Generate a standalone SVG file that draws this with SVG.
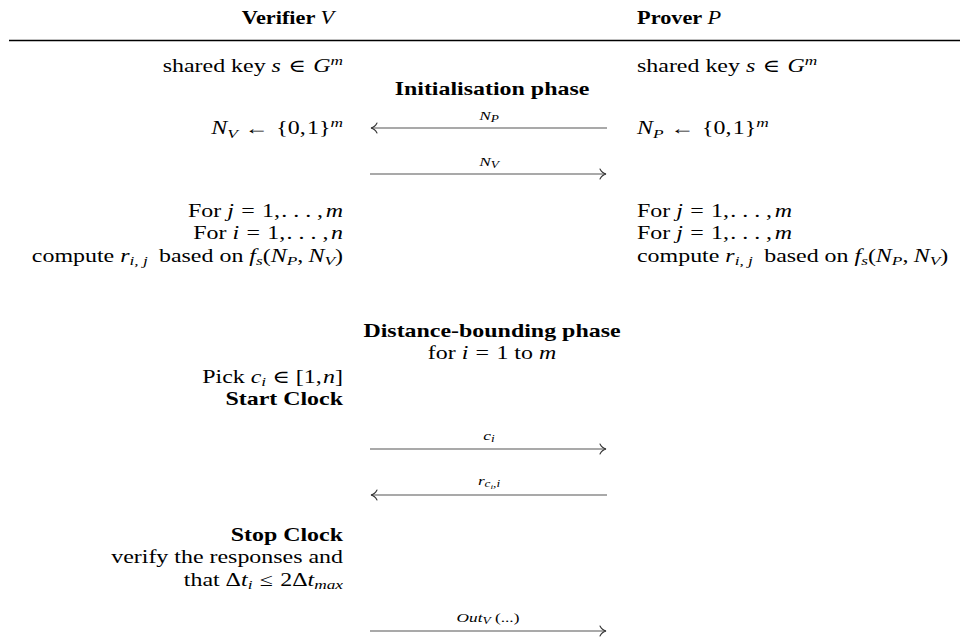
<svg xmlns="http://www.w3.org/2000/svg" width="960" height="639" viewBox="0 0 960 639" font-family="'Liberation Serif', 'Times New Roman', serif">
<defs>
<style>
text{font-family:"Liberation Serif","Times New Roman","DejaVu Serif",serif;font-size:18px;fill:#000}
.b{font-weight:bold}
.i{font-style:italic}
.l{text-anchor:end}
.c{text-anchor:middle}
.lab{font-size:13px;font-style:italic;text-anchor:middle}
.sub{font-size:13px;font-style:italic}
.sup{font-size:13px;font-style:italic}
.arr{stroke:#555;stroke-width:1.2;fill:none}
.head{stroke:#333;stroke-width:1.1;fill:none;stroke-linecap:round}
</style>
<marker id="ah" markerWidth="10" markerHeight="12" refX="7" refY="6" orient="auto" markerUnits="userSpaceOnUse">
<path d="M1,1 Q3,5 7,6 Q3,7 1,11" class="head"/>
</marker>
</defs>
<rect width="960" height="639" fill="#fff"/>
<g id="header">
<text class="b c" transform="translate(288 0) scale(1.24 1)" x="0" y="24">Verifier <tspan class="i" font-weight="normal">V</tspan></text>
<text class="b" transform="translate(637 0) scale(1.24 1)" x="0" y="24">Prover <tspan class="i" font-weight="normal">P</tspan></text>
<line x1="9" y1="40.5" x2="960" y2="40.5" stroke="#000" stroke-width="1.3"/>
</g>
<g id="verifier" transform="translate(343 0) scale(1.33 1)">
<text class="l" x="0" y="72">shared key <tspan class="i">s</tspan><tspan dx="1"> ∈ </tspan><tspan class="i" dx="1">G</tspan><tspan class="sup" dy="-7">m</tspan></text>
<text class="l" x="0" y="134"><tspan class="i">N</tspan><tspan class="sub" dy="4">V</tspan><tspan dy="-4" dx="1"> ← </tspan><tspan dx="1">{0,</tspan><tspan dx="1">1}</tspan><tspan class="sup" dy="-7">m</tspan></text>
<text class="l" x="0" y="217">For <tspan class="i">j</tspan><tspan dx="1"> = </tspan><tspan dx="1">1,</tspan><tspan dx="1">. . . ,</tspan><tspan class="i" dx="2">m</tspan></text>
<text class="l" x="0" y="239">For <tspan class="i">i</tspan><tspan dx="1"> = </tspan><tspan dx="1">1,</tspan><tspan dx="1">. . . ,</tspan><tspan class="i" dx="2">n</tspan></text>
<text class="l" x="0" y="262">compute <tspan class="i">r</tspan><tspan class="sub" dy="3">i, j</tspan><tspan dy="-3" dx="4"> based on </tspan><tspan class="i">f</tspan><tspan class="sub" dy="3">s</tspan><tspan dy="-3">(</tspan><tspan class="i">N</tspan><tspan class="sub" dy="3">P</tspan><tspan dy="-3">,</tspan><tspan class="i" dx="4">N</tspan><tspan class="sub" dy="3">V</tspan><tspan dy="-3">)</tspan></text>
<text class="l" x="0" y="383">Pick <tspan class="i">c</tspan><tspan class="sub" dy="3">i</tspan><tspan dy="-3"> ∈ </tspan><tspan>[1,</tspan><tspan class="i" dx="1">n</tspan>]</text>
<text class="l b" x="0" y="405">Start Clock</text>
<text class="l b" x="0" y="541">Stop Clock</text>
<text class="l" x="0" y="563">verify the responses and</text>
<text class="l" x="0" y="586">that Δ<tspan class="i">t</tspan><tspan class="sub" dy="3">i</tspan><tspan dy="-3" dx="1"> ≤ </tspan><tspan dx="1">2Δ</tspan><tspan class="i">t</tspan><tspan class="sub" dy="3">max</tspan></text>
</g>
<g id="prover" transform="translate(637 0) scale(1.33 1)">
<text x="0" y="72">shared key <tspan class="i">s</tspan><tspan dx="1"> ∈ </tspan><tspan class="i" dx="1">G</tspan><tspan class="sup" dy="-7">m</tspan></text>
<text x="0" y="134"><tspan class="i">N</tspan><tspan class="sub" dy="4">P</tspan><tspan dy="-4" dx="1"> ← </tspan><tspan dx="1">{0,</tspan><tspan dx="1">1}</tspan><tspan class="sup" dy="-7">m</tspan></text>
<text x="0" y="217">For <tspan class="i">j</tspan><tspan dx="1"> = </tspan><tspan dx="1">1,</tspan><tspan dx="1">. . . ,</tspan><tspan class="i" dx="2">m</tspan></text>
<text x="0" y="239">For <tspan class="i">j</tspan><tspan dx="1"> = </tspan><tspan dx="1">1,</tspan><tspan dx="1">. . . ,</tspan><tspan class="i" dx="2">m</tspan></text>
<text x="0" y="262">compute <tspan class="i">r</tspan><tspan class="sub" dy="3">i, j</tspan><tspan dy="-3" dx="4"> based on </tspan><tspan class="i">f</tspan><tspan class="sub" dy="3">s</tspan><tspan dy="-3">(</tspan><tspan class="i">N</tspan><tspan class="sub" dy="3">P</tspan><tspan dy="-3">,</tspan><tspan class="i" dx="4">N</tspan><tspan class="sub" dy="3">V</tspan><tspan dy="-3">)</tspan></text>
</g>
<g id="phases">
<text class="b c" transform="translate(492 0) scale(1.33 1)" x="0" y="95">Initialisation phase</text>
<text class="b c" transform="translate(492 0) scale(1.33 1)" x="0" y="337">Distance-bounding phase</text>
<text class="c" transform="translate(492 0) scale(1.33 1)" x="0" y="359">for <tspan class="i">i</tspan><tspan dx="1"> = </tspan><tspan dx="1">1 to </tspan><tspan class="i">m</tspan></text>
</g>
<g id="connectors">
<line class="arr" x1="607" y1="128" x2="371" y2="128" marker-end="url(#ah)"/>
<text class="lab" transform="translate(489 0) scale(1.33 1)" x="0" y="120">N<tspan font-size="10" dy="2">P</tspan></text>
<line class="arr" x1="370" y1="174" x2="606" y2="174" marker-end="url(#ah)"/>
<text class="lab" transform="translate(489 0) scale(1.33 1)" x="0" y="166">N<tspan font-size="10" dy="2">V</tspan></text>
<line class="arr" x1="370" y1="449" x2="606" y2="449" marker-end="url(#ah)"/>
<text class="lab" transform="translate(489 0) scale(1.33 1)" x="0" y="440">c<tspan font-size="10" dy="2">i</tspan></text>
<line class="arr" x1="607" y1="495" x2="371" y2="495" marker-end="url(#ah)"/>
<text class="lab" transform="translate(489 0) scale(1.33 1)" x="0" y="485">r<tspan font-size="10" dy="2">c</tspan><tspan font-size="7" dy="2">i</tspan><tspan font-size="10" dy="-2">,i</tspan></text>
<line class="arr" x1="370" y1="631" x2="606" y2="631" marker-end="url(#ah)"/>
<text class="lab" transform="translate(488 0) scale(1.33 1)" x="0" y="622">Out<tspan font-size="10" dy="2">V</tspan><tspan font-style="normal" dy="-2"> (...)</tspan></text>
</g>
</svg>
